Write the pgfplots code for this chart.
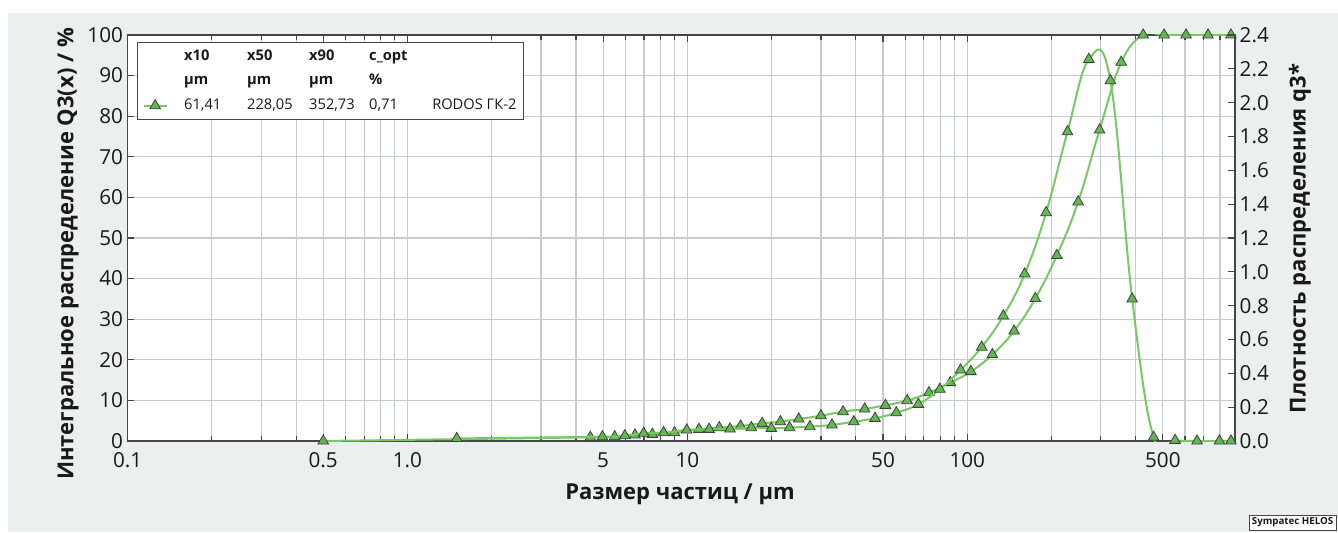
\documentclass[border=0pt]{standalone}
\usepackage{fontspec}
\setmainfont{Open Sans}
\usepackage{pgfplots}
\usepackage{pgfplotstable}
\pgfplotsset{compat=1.18}

\definecolor{panel}{RGB}{236,239,240}
\definecolor{gridc}{RGB}{198,205,209}
\definecolor{axisc}{RGB}{70,70,70}
\definecolor{lineg}{RGB}{120,200,100}
\definecolor{markg}{RGB}{96,186,80}
\definecolor{txt}{RGB}{25,25,25}

% cumulative distribution Q3 at the upper class limits (um, %)
\pgfplotstableread{
x Q
0.5 0
4.5 0.91
5.5 1.06
6.5 1.48
7.5 1.65
9 2.04
11 2.88
13 3.28
15.5 3.69
18.5 4.36
21.5 4.75
25 5.42
30 6.23
36 7.22
43 7.88
51 8.79
61 9.95
73 11.9
87 14.4
103 17.1
123 21.3
147 27.1
175 35.1
209 45.7
249 58.9
297 76.6
355 93.3
425 100
505 100
605 100
725 100
875 100
}\cumdata

% density distribution q3* at the geometric class means (um, -)
\pgfplotstableread{
x q
1.5 0.015
4.97 0.025
5.98 0.031
6.98 0.046
8.22 0.049
9.95 0.065
11.96 0.069
14.2 0.071
16.93 0.079
19.94 0.075
23.18 0.079
27.39 0.085
32.86 0.095
39.34 0.114
46.83 0.134
55.78 0.167
66.88 0.217
79.81 0.306
94.64 0.42
112.6 0.555
134.5 0.739
160.4 0.987
191.3 1.35
228.1 1.828
271.9 2.256
324.7 2.13
388.4 0.84
463.3 0.022
552.7 0.004
662.3 0
796.4 0
875 0
}\densdata

\pgfplotsset{
  psdcurve/.style={color=lineg, line width=1.5pt, smooth, tension=0.68,
    mark=triangle*, mark size=4.6pt,
    mark options={fill=markg, draw=black!75, line width=0.6pt}},
  psdframe/.style={
    scale only axis, width=830.55pt, height=304.5pt,
    at={(95.7pt,68.25pt)}, anchor=south west,
    clip mode=individual,
    tick align=inside,
    major tick length=5pt, minor tick length=3.5pt,
    tick style={axisc, line width=0.9pt},
    axis line style={axisc, line width=1.2pt},
    ticklabel style={font=\fontsize{15.5}{18}\selectfont, text=txt},
    /pgf/number format/assume math mode=true,
  },
}

\newcommand{\lcol}[2]{\makebox[#1][l]{#2}}

\begin{document}
\begin{tikzpicture}[x=0.75pt,y=0.75pt]
\useasboundingbox (0,0) rectangle (1338,532);
\fill[white] (0,0) rectangle (1338,532);
\fill[panel] (8,0) rectangle (1338,519);

\begin{semilogxaxis}[psdframe,
  xmin=0.1, xmax=905,
  axis background/.style={fill=white},
  ymin=0, ymax=100, ytick={0,10,...,100},
  ytick pos=left,
  xtick={0.1,0.5,1,5,10,50,100,500},
  xticklabels={0.1,0.5,1.0,5,10,50,100,500},
  minor xtick={0.2,0.3,0.4,0.6,0.7,0.8,0.9,2,3,4,6,7,8,9,20,30,40,60,70,80,90,200,300,400,600,700,800},
  xmajorgrids, xminorgrids, ymajorgrids,
  major grid style={gridc, line width=0.9pt},
  minor grid style={gridc, line width=0.9pt},
  xticklabel style={yshift=-5pt},
  legend cell align=left,
  legend style={at={(0.0085,0.983)}, anchor=north west,
    draw=axisc, line width=0.8pt, fill=white,
    inner xsep=4pt, inner ysep=4.5pt, row sep=6.1pt,
    font=\fontsize{11}{13}\selectfont, text=txt,
    nodes={inner sep=1pt, text height=8pt, text depth=2.3pt}},
  legend image code/.code={\draw[mark repeat=2, mark phase=2]
    plot coordinates {(0pt,0pt) (8.5pt,0pt) (17pt,0pt)};},
]
\addlegendimage{empty legend}
\addlegendentry{\hspace{11.5pt}\textbf{\lcol{47.25pt}{x10}\lcol{46.5pt}{x50}\lcol{45pt}{x90}c\_opt}}
\addlegendimage{empty legend}
\addlegendentry{\hspace{11.5pt}\textbf{\lcol{47.25pt}{µm}\lcol{46.5pt}{µm}\lcol{45pt}{µm}\%}}
\addplot[psdcurve] table[x=x, y=Q] {\cumdata};
\addlegendentry{\hspace{11.5pt}\lcol{47.25pt}{61,41}\lcol{46.5pt}{228,05}\lcol{45pt}{352,73}\lcol{47.25pt}{0,71}RODOS ГК-2}
\end{semilogxaxis}

\begin{semilogxaxis}[psdframe,
  xmin=0.1, xmax=905,
  axis x line=none, axis y line*=right,
  ymin=0, ymax=2.4,
  ytick={0,0.2,0.4,0.6,0.8,1.0,1.2,1.4,1.6,1.8,2.0,2.2,2.4},
  yticklabel style={/pgf/number format/.cd, fixed, fixed zerofill, precision=1},
]
\addplot[psdcurve] table[x=x, y=q] {\densdata};
\end{semilogxaxis}

% axis titles
\node[rotate=90, font=\bfseries\fontsize{16.5}{19}\selectfont, text=txt]
  at (68,278) {Интегральное распределение Q3(x) / \%};
\node[rotate=90, font=\bfseries\fontsize{16.5}{19}\selectfont, text=txt]
  at (1300,293.5) {Плотность распределения q3*};
\node[font=\bfseries\fontsize{16.5}{19}\selectfont, text=txt]
  at (680,38) {Размер частиц / µm};

% instrument tag
\node[draw=axisc, fill=white, anchor=north west, inner sep=2pt,
  font=\bfseries\fontsize{7.3}{9}\selectfont, text=txt]
  at (1249,17) {Sympatec HELOS};
\end{tikzpicture}
\end{document}
